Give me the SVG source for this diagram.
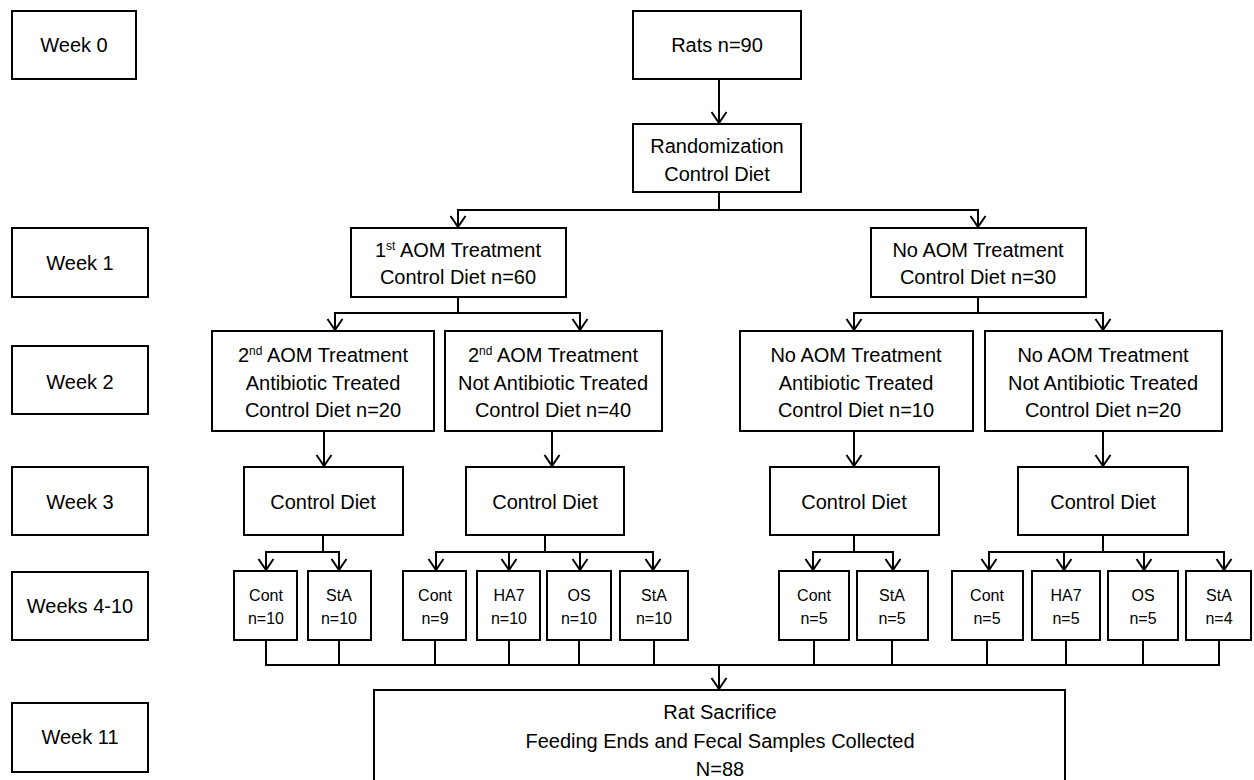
<svg xmlns="http://www.w3.org/2000/svg" width="1254" height="780" viewBox="0 0 1254 780">
<style>
  .box { fill: #fff; stroke: #000; stroke-width: 2; }
  .t { font-family: "Liberation Sans", Arial, sans-serif; font-size: 20px; fill: #000; text-anchor: middle; }
  .s { font-family: "Liberation Sans", Arial, sans-serif; font-size: 16px; fill: #000; text-anchor: middle; }
  .sup { font-size: 12px; }
  .c { fill: none; stroke: #000; stroke-width: 2; }
</style>
<defs>
  <marker id="arr" markerUnits="userSpaceOnUse" viewBox="-13 -10 15 20" refX="0" refY="0" markerWidth="15" markerHeight="20" orient="auto" overflow="visible">
    <path d="M-11,-7.5 L0,0 L-11,7.5" fill="none" stroke="#000" stroke-width="2"/>
  </marker>
</defs>
<rect width="1254" height="780" fill="#fff"/>

<g id="connectors">
  <path class="c" d="M719,79 V123" marker-end="url(#arr)"/>
  <path class="c" d="M719,192 V210 H458 V227" marker-end="url(#arr)"/>
  <path class="c" d="M719,210 H978 V227" marker-end="url(#arr)"/>
  <path class="c" d="M458,297 V313 H335 V330" marker-end="url(#arr)"/>
  <path class="c" d="M458,313 H580 V330" marker-end="url(#arr)"/>
  <path class="c" d="M978,297 V313 H854 V330" marker-end="url(#arr)"/>
  <path class="c" d="M978,313 H1103 V330" marker-end="url(#arr)"/>
  <path class="c" d="M324,431 V466" marker-end="url(#arr)"/>
  <path class="c" d="M552,431 V466" marker-end="url(#arr)"/>
  <path class="c" d="M854,431 V466" marker-end="url(#arr)"/>
  <path class="c" d="M1103,431 V466" marker-end="url(#arr)"/>
  <path class="c" d="M323,535 V552 H266 V570" marker-end="url(#arr)"/>
  <path class="c" d="M323,552 H339 V570" marker-end="url(#arr)"/>
  <path class="c" d="M545,535 V552 H436 V570" marker-end="url(#arr)"/>
  <path class="c" d="M509,552 V570" marker-end="url(#arr)"/>
  <path class="c" d="M580,552 V570" marker-end="url(#arr)"/>
  <path class="c" d="M545,552 H653 V570" marker-end="url(#arr)"/>
  <path class="c" d="M854,535 V552 H813 V570" marker-end="url(#arr)"/>
  <path class="c" d="M854,552 H893 V570" marker-end="url(#arr)"/>
  <path class="c" d="M1103,535 V552 H989 V570" marker-end="url(#arr)"/>
  <path class="c" d="M1064,552 V570" marker-end="url(#arr)"/>
  <path class="c" d="M1144,552 V570" marker-end="url(#arr)"/>
  <path class="c" d="M1103,552 H1224 V570" marker-end="url(#arr)"/>
  <path class="c" d="M266,640 V665 H1219 V640 M339,640 V665 M435,640 V665 M509,640 V665 M579,640 V665 M654,640 V665 M814,640 V665 M892,640 V665 M987,640 V665 M1066,640 V665 M1143,640 V665"/>
  <path class="c" d="M719,665 V689" marker-end="url(#arr)"/>
</g>

<g id="week0"><rect class="box" x="12" y="11" width="124" height="68"/><text class="t" x="74" y="52">Week 0</text></g>
<g id="week1"><rect class="box" x="12" y="228" width="136" height="69"/><text class="t" x="80" y="270">Week 1</text></g>
<g id="week2"><rect class="box" x="12" y="346" width="136" height="68"/><text class="t" x="80" y="389">Week 2</text></g>
<g id="week3"><rect class="box" x="12" y="467" width="136" height="68"/><text class="t" x="80" y="509">Week 3</text></g>
<g id="week4-10"><rect class="box" x="12" y="572" width="136" height="68"/><text class="t" x="80" y="613">Weeks 4-10</text></g>
<g id="week11"><rect class="box" x="12" y="703" width="136" height="69"/><text class="t" x="80" y="744">Week 11</text></g>

<g id="rats"><rect class="box" x="633" y="11" width="168" height="68"/><text class="t" x="717" y="52">Rats n=90</text></g>
<g id="randomization"><rect class="box" x="633" y="124" width="168" height="68"/>
  <text class="t" x="717" y="153">Randomization</text><text class="t" x="717" y="181">Control Diet</text></g>

<g id="aom1"><rect class="box" x="351" y="228" width="215" height="69"/>
  <text class="t" x="458" y="257">1<tspan class="sup" dy="-7">st</tspan><tspan dy="7"> AOM Treatment</tspan></text>
  <text class="t" x="458" y="284">Control Diet n=60</text></g>
<g id="noaom"><rect class="box" x="871" y="228" width="215" height="69"/>
  <text class="t" x="978" y="257">No AOM Treatment</text>
  <text class="t" x="978" y="284">Control Diet n=30</text></g>

<g id="aom2-abx"><rect class="box" x="212" y="331" width="222" height="100"/>
  <text class="t" x="323" y="362">2<tspan class="sup" dy="-7">nd</tspan><tspan dy="7"> AOM Treatment</tspan></text>
  <text class="t" x="323" y="390">Antibiotic Treated</text>
  <text class="t" x="323" y="417">Control Diet n=20</text></g>
<g id="aom2-noabx"><rect class="box" x="445" y="331" width="217" height="100"/>
  <text class="t" x="553" y="362">2<tspan class="sup" dy="-7">nd</tspan><tspan dy="7"> AOM Treatment</tspan></text>
  <text class="t" x="553" y="390">Not Antibiotic Treated</text>
  <text class="t" x="553" y="417">Control Diet n=40</text></g>
<g id="noaom-abx"><rect class="box" x="740" y="331" width="233" height="100"/>
  <text class="t" x="856" y="362">No AOM Treatment</text>
  <text class="t" x="856" y="390">Antibiotic Treated</text>
  <text class="t" x="856" y="417">Control Diet n=10</text></g>
<g id="noaom-noabx"><rect class="box" x="985" y="331" width="237" height="100"/>
  <text class="t" x="1103" y="362">No AOM Treatment</text>
  <text class="t" x="1103" y="390">Not Antibiotic Treated</text>
  <text class="t" x="1103" y="417">Control Diet n=20</text></g>

<g id="cd1"><rect class="box" x="244" y="467" width="159" height="68"/><text class="t" x="323" y="509">Control Diet</text></g>
<g id="cd2"><rect class="box" x="466" y="467" width="158" height="68"/><text class="t" x="545" y="509">Control Diet</text></g>
<g id="cd3"><rect class="box" x="770" y="467" width="169" height="68"/><text class="t" x="854" y="509">Control Diet</text></g>
<g id="cd4"><rect class="box" x="1018" y="467" width="170" height="68"/><text class="t" x="1103" y="509">Control Diet</text></g>

<g id="g1-cont"><rect class="box" x="234" y="571" width="63" height="69"/><text class="s" x="266" y="601">Cont</text><text class="s" x="266" y="624">n=10</text></g>
<g id="g1-sta"><rect class="box" x="308" y="571" width="63" height="69"/><text class="s" x="339" y="601">StA</text><text class="s" x="339" y="624">n=10</text></g>
<g id="g2-cont"><rect class="box" x="403" y="571" width="63" height="69"/><text class="s" x="435" y="601">Cont</text><text class="s" x="435" y="624">n=9</text></g>
<g id="g2-ha7"><rect class="box" x="477" y="571" width="63" height="69"/><text class="s" x="509" y="601">HA7</text><text class="s" x="509" y="624">n=10</text></g>
<g id="g2-os"><rect class="box" x="547" y="571" width="64" height="69"/><text class="s" x="579" y="601">OS</text><text class="s" x="579" y="624">n=10</text></g>
<g id="g2-sta"><rect class="box" x="620" y="571" width="68" height="69"/><text class="s" x="654" y="601">StA</text><text class="s" x="654" y="624">n=10</text></g>
<g id="g3-cont"><rect class="box" x="779" y="571" width="70" height="69"/><text class="s" x="814" y="601">Cont</text><text class="s" x="814" y="624">n=5</text></g>
<g id="g3-sta"><rect class="box" x="857" y="571" width="71" height="69"/><text class="s" x="892" y="601">StA</text><text class="s" x="892" y="624">n=5</text></g>
<g id="g4-cont"><rect class="box" x="952" y="571" width="71" height="69"/><text class="s" x="987" y="601">Cont</text><text class="s" x="987" y="624">n=5</text></g>
<g id="g4-ha7"><rect class="box" x="1032" y="571" width="68" height="69"/><text class="s" x="1066" y="601">HA7</text><text class="s" x="1066" y="624">n=5</text></g>
<g id="g4-os"><rect class="box" x="1108" y="571" width="70" height="69"/><text class="s" x="1143" y="601">OS</text><text class="s" x="1143" y="624">n=5</text></g>
<g id="g4-sta"><rect class="box" x="1186" y="571" width="65" height="69"/><text class="s" x="1219" y="601">StA</text><text class="s" x="1219" y="624">n=4</text></g>

<g id="sacrifice"><rect class="box" x="374" y="690" width="691" height="100"/>
  <text class="t" x="720" y="719">Rat Sacrifice</text>
  <text class="t" x="720" y="748">Feeding Ends and Fecal Samples Collected</text>
  <text class="t" x="720" y="776">N=88</text></g>
</svg>
